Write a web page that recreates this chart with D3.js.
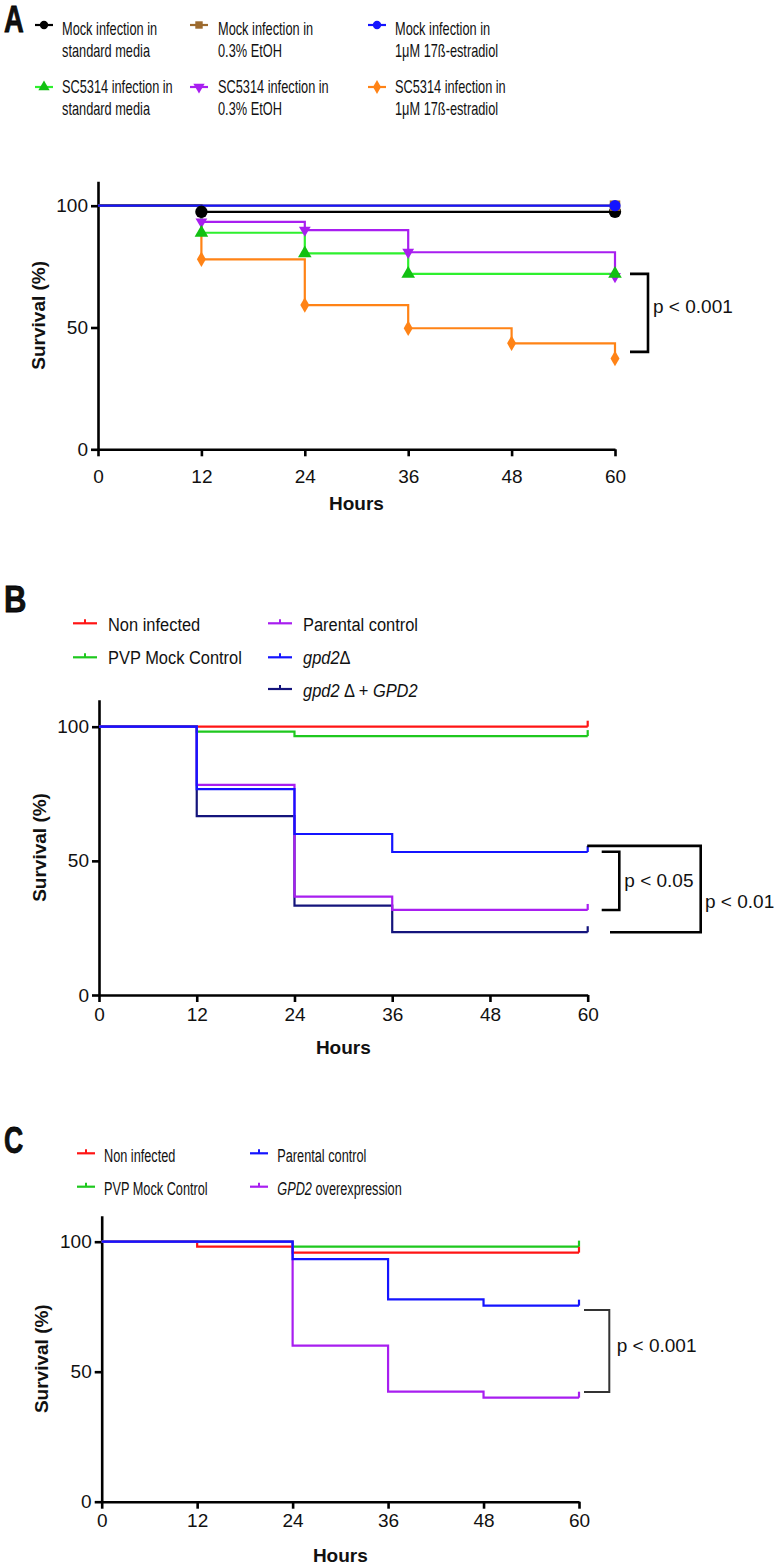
<!DOCTYPE html>
<html><head><meta charset="utf-8">
<script src="https://cdn.jsdelivr.net/npm/d3@7"></script>
<style>
body{margin:0;background:#fff}
svg{display:block}
text{font-family:"Liberation Sans",Arial,Helvetica,sans-serif;fill:#111}
</style>
</head><body>
<svg id="chart" width="774" height="1565"></svg>
<script>
// ---------------- DATA ----------------
const hours = [0, 12, 24, 36, 48, 60];
const yTickValues = [0, 50, 100];
const panelLetters = ["A", "B", "C"];
const axisTitleX = "Hours";
const axisTitleY = "Survival (%)";

// Panel A
const aMockStandard = [100, 97.5, 97.5, 97.5, 97.5, 97.5];
const aMockEtOH     = [100, 100, 100, 100, 100, 100];
const aMockE2       = [100, 100, 100, 100, 100, 100];
const aSCStandard   = [100, 88.9, 80.4, 72.0, 72.0, 72.0];
const aSCEtOH       = [100, 93.4, 90.0, 80.9, 80.9, 71.0];
const aSCE2         = [100, 78.0, 59.2, 49.7, 43.5, 37.3];
const aLabels = [
  ["Mock infection in", "standard media"],
  ["Mock infection in", "0.3% EtOH"],
  ["Mock infection in", "1\u03bcM 17\u00df-estradiol"],
  ["SC5314 infection in", "standard media"],
  ["SC5314 infection in", "0.3% EtOH"],
  ["SC5314 infection in", "1\u03bcM 17\u00df-estradiol"]
];
const aBracketValues = [72, 40];
const aBracketLabel = "p < 0.001";

// Panel B
const bNonInfected = [100, 100, 100, 100, 100, 100];
const bPVPMock     = [100, 98.2, 96.5, 96.5, 96.5, 96.5];
const bParental    = [100, 78.3, 36.7, 31.7, 31.7, 31.7];
const bGpd2        = [100, 76.7, 60.0, 53.3, 53.3, 53.3];
const bGpd2Comp    = [100, 66.7, 33.3, 23.4, 23.4, 23.4];
const bLabels = [
  [{t:"Non infected"}],
  [{t:"PVP Mock Control"}],
  [{t:"Parental control"}],
  [{t:"gpd2", i:true}, {t:"\u0394"}],
  [{t:"gpd2", i:true}, {t:" \u0394 + "}, {t:"GPD2", i:true}]
];
const bInnerBracketValues = [53.4, 31.7];
const bOuterBracketValues = [55.6, 23.4];
const bInnerLabel = "p < 0.05";
const bOuterLabel = "p < 0.01";

// Panel C
const cNonInfected = [100, 98.1, 95.8, 95.8, 95.8, 95.8];
const cPVPMock     = [100, 100, 98.1, 98.1, 98.1, 98.1];
const cParental    = [100, 100, 93.3, 77.8, 75.4, 75.4];
const cGPD2Over    = [100, 100, 60.0, 42.3, 40.0, 40.0];
const cLabels = [
  [{t:"Non infected"}],
  [{t:"PVP Mock Control"}],
  [{t:"Parental control"}],
  [{t:"GPD2", i:true}, {t:" overexpression"}]
];
const cBracketValues = [73.7, 42.2];
const cBracketLabel = "p < 0.001";

// ---------------- STYLE / LAYOUT ----------------
const col = {
  black:"#000000", brown:"#9c6a2e", blue:"#1414ff", green:"#2ef02e", greenDark:"#12c012",
  purple:"#a81ef0", orange:"#ff8316", red:"#ff1414", green2:"#1ec81e", navy:"#14147c"
};
const svg = d3.select("#chart");

function makeScales(p) {
  const x = d3.scaleLinear().domain([0, 60]).range([p.x0, p.x1]);
  const yTop = p.y0 - 1.1 * (p.y0 - p.y100);
  const y = d3.scaleLinear().domain([0, 110]).range([p.y0, yTop]);
  return {x, y};
}

function drawAxes(g, s, p) {
  const xa = g.append("g").attr("transform", `translate(0,${p.y0})`)
    .call(d3.axisBottom(s.x).tickValues(hours).tickSize(7).tickSizeOuter(0).tickPadding(p.xPad));
  const ya = g.append("g").attr("transform", `translate(${p.x0},0)`)
    .call(d3.axisLeft(s.y).tickValues(yTickValues).tickSize(7).tickSizeOuter(0).tickPadding(3));
  [xa, ya].forEach(a => {
    a.selectAll("path.domain").attr("stroke", "#000").attr("stroke-width", 2.6);
    a.selectAll(".tick line").attr("stroke", "#000").attr("stroke-width", 2.6);
    a.selectAll(".tick text").attr("font-size", 19).attr("fill", "#111")
      .style("font-family", '"Liberation Sans",Arial,sans-serif');
  });
  g.append("text").attr("x", (p.x0 + p.x1) / 2).attr("y", p.y0 + p.titleOff)
    .attr("text-anchor", "middle").attr("font-size", 19).attr("font-weight", "bold").text(axisTitleX);
  const yMid = (s.y(0) + s.y(110)) / 2;
  g.append("text").attr("transform", `translate(${p.x0 - 60},${yMid}) rotate(-90)`)
    .attr("text-anchor", "middle").attr("dominant-baseline", "central")
    .attr("font-size", 19).attr("font-weight", "bold").text(axisTitleY);
}

const stepLine = s => d3.line().x(d => s.x(d[0])).y(d => s.y(d[1])).curve(d3.curveStepAfter);
const pts = vals => hours.map((h, i) => [h, vals[i]]);

function drawSeries(g, s, vals, color, width) {
  g.append("path").attr("d", stepLine(s)(pts(vals))).attr("fill", "none")
    .attr("stroke", color).attr("stroke-width", width || 2.2);
}
function drawCensor(g, s, vals, color, dir) {
  const v = vals[vals.length - 1];
  g.append("line").attr("x1", s.x(60)).attr("x2", s.x(60))
    .attr("y1", s.y(v)).attr("y2", s.y(v) + (dir || -1) * 6)
    .attr("stroke", color).attr("stroke-width", 2.2);
}
function symbolPath(type, size) {
  const t = {circle:d3.symbolCircle, square:d3.symbolSquare, up:d3.symbolTriangle,
             down:d3.symbolTriangle, diamond:d3.symbolDiamond}[type];
  return d3.symbol().type(t).size(size)();
}
function drawMarker(g, cx, cy, type, fill, size) {
  g.append("path").attr("d", symbolPath(type, size))
    .attr("transform", `translate(${cx},${cy})` + (type === "down" ? " rotate(180)" : ""))
    .attr("fill", fill);
}
function drawMarkers(g, s, vals, type, fill, size) {
  vals.forEach((v, i) => {
    if (i === 0) return;
    if (i === vals.length - 1 || v < vals[i - 1]) drawMarker(g, s.x(hours[i]), s.y(v), type, fill, size);
  });
}
function drawBracket(g, s, vals, b) {
  const xe = s.x(60);
  const yT = s.y(vals[0]), yB = s.y(vals[1]);
  g.append("path")
    .attr("d", `M${xe + b.topStart},${yT}H${xe + b.xv}V${yB}H${xe + b.botStart}`)
    .attr("fill", "none").attr("stroke", b.color || "#000").attr("stroke-width", b.w || 2.6);
  g.append("text").attr("x", xe + b.lx).attr("y", (yT + yB) / 2 + b.ly)
    .attr("font-size", 19).text(b.label);
}
function scaledText(g, x, y, segs, size, sx) {
  const t = g.append("g").attr("transform", `translate(${x},${y}) scale(${sx},1)`)
    .append("text").attr("font-size", size);
  segs.forEach(sg => t.append("tspan").attr("font-style", sg.i ? "italic" : "normal").text(sg.t));
}
function panelLetter(txt, y, sx) {
  svg.append("g").attr("transform", `translate(4,${y}) scale(${sx},1)`)
    .append("text").attr("font-size", 37).attr("font-weight", "bold").attr("fill", "#000")
    .attr("stroke", "#000").attr("stroke-width", 0.8).text(txt);
}

// ---------------- PANEL A ----------------
{
  const p = {x0:98, x1:615, y0:449.3, y100:205.7, xPad:13, titleOff:61};
  const s = makeScales(p);
  const g = svg.append("g");
  panelLetter(panelLetters[0], 32, 0.74);
  drawAxes(g, s, p);
  const series = [
    {v:aSCE2, c:col.orange, m:"diamond", f:col.orange, sz:70},
    {v:aSCEtOH, c:col.purple, m:"down", f:col.purple, sz:60},
    {v:aSCStandard, c:col.green, m:"up", f:col.greenDark, sz:80},
    {v:aMockStandard, c:col.black, m:"circle", f:col.black, sz:120},
    {v:aMockEtOH, c:col.brown, m:"square", f:col.brown, sz:110},
    {v:aMockE2, c:col.blue, m:"circle", f:col.blue, sz:100}
  ];
  series.forEach(d => drawSeries(g, s, d.v, d.c, 2.2));
  [3, 4, 5, 0, 1, 2].forEach(k => {
    const d = series[k];
    drawMarkers(g, s, d.v, d.m, d.f, d.sz);
  });
  drawBracket(g, s, aBracketValues, {topStart:15, botStart:15, xv:33, lx:38, ly:0, label:aBracketLabel});
  // legend
  const legOrder = [
    {c:col.black, m:"circle", f:col.black},
    {c:col.brown, m:"square", f:col.brown},
    {c:col.blue, m:"circle", f:col.blue},
    {c:col.green, m:"up", f:col.greenDark},
    {c:col.purple, m:"down", f:col.purple},
    {c:col.orange, m:"diamond", f:col.orange}
  ];
  const symLeft = [35, 190, 368], textX = [62, 218, 395];
  const rowSymY = [25, 87], rowBase = [[35, 57], [93, 115]];
  legOrder.forEach((d, i) => {
    const r = Math.floor(i / 3), c = i % 3;
    g.append("line").attr("x1", symLeft[c]).attr("x2", symLeft[c] + 18)
      .attr("y1", rowSymY[r]).attr("y2", rowSymY[r]).attr("stroke", d.c).attr("stroke-width", 2.2);
    drawMarker(g, symLeft[c] + 9, rowSymY[r], d.m, d.f, 55);
    aLabels[i].forEach((ln, k) => scaledText(g, textX[c], rowBase[r][k], [{t:ln}], 18, 0.71));
  });
}

// ---------------- PANEL B ----------------
{
  const p = {x0:99, x1:587.7, y0:995, y100:726.7, xPad:6, titleOff:59};
  const s = makeScales(p);
  const g = svg.append("g");
  panelLetter(panelLetters[1], 612, 0.84);
  drawAxes(g, s, p);
  const series = [
    {v:bNonInfected, c:col.red},
    {v:bPVPMock, c:col.green2},
    {v:bGpd2Comp, c:col.navy},
    {v:bParental, c:col.purple},
    {v:bGpd2, c:col.blue}
  ];
  series.forEach(d => drawSeries(g, s, d.v, d.c, 2.2));
  series.forEach(d => drawCensor(g, s, d.v, d.c));
  drawBracket(g, s, bInnerBracketValues, {topStart:14, botStart:14, xv:31.6, lx:36.6, ly:6, label:bInnerLabel});
  drawBracket(g, s, bOuterBracketValues, {topStart:-0.5, botStart:22.3, xv:113, lx:117.3, ly:19, label:bOuterLabel});
  const legColors = [col.red, col.green2, col.purple, col.blue, col.navy];
  const pos = [[0,0],[0,1],[1,0],[1,1],[1,2]];
  const symLeft = [73, 268], textX = [108, 303];
  const rowSymY = [623.3, 657.3, 689], rowBase = [630.7, 664, 697];
  legColors.forEach((c, i) => {
    const [cc, r] = pos[i];
    g.append("line").attr("x1", symLeft[cc]).attr("x2", symLeft[cc] + 24)
      .attr("y1", rowSymY[r]).attr("y2", rowSymY[r]).attr("stroke", c).attr("stroke-width", 2.2);
    g.append("line").attr("x1", symLeft[cc] + 12).attr("x2", symLeft[cc] + 12)
      .attr("y1", rowSymY[r]).attr("y2", rowSymY[r] - 4).attr("stroke", c).attr("stroke-width", 2);
    scaledText(g, textX[cc], rowBase[r], bLabels[i], 19, 0.865);
  });
}

// ---------------- PANEL C ----------------
{
  const p = {x0:101.7, x1:579, y0:1501.7, y100:1241.7, xPad:4.5, titleOff:60};
  const s = makeScales(p);
  const g = svg.append("g");
  panelLetter(panelLetters[2], 1153, 0.72);
  drawAxes(g, s, p);
  const series = [
    {v:cNonInfected, c:col.red},
    {v:cPVPMock, c:col.green2},
    {v:cGPD2Over, c:col.purple},
    {v:cParental, c:col.blue}
  ];
  series.forEach(d => drawSeries(g, s, d.v, d.c, 2.2));
  series.forEach(d => drawCensor(g, s, d.v, d.c));
  drawBracket(g, s, cBracketValues, {topStart:5, botStart:5, xv:30.3, lx:37.7, ly:1, label:cBracketLabel, color:"#333", w:2});
  const legColors = [col.red, col.green2, col.blue, col.purple];
  const pos = [[0,0],[0,1],[1,0],[1,1]];
  const symLeft = [77, 250], textX = [104, 277.3];
  const rowSymY = [1153.3, 1186.7], rowBase = [1162.3, 1195];
  legColors.forEach((c, i) => {
    const [cc, r] = pos[i];
    g.append("line").attr("x1", symLeft[cc]).attr("x2", symLeft[cc] + 18)
      .attr("y1", rowSymY[r]).attr("y2", rowSymY[r]).attr("stroke", c).attr("stroke-width", 2.2);
    g.append("line").attr("x1", symLeft[cc] + 9).attr("x2", symLeft[cc] + 9)
      .attr("y1", rowSymY[r]).attr("y2", rowSymY[r] - 4).attr("stroke", c).attr("stroke-width", 2);
    scaledText(g, textX[cc], rowBase[r], cLabels[i], 19, 0.67);
  });
}
</script>
</body></html>
